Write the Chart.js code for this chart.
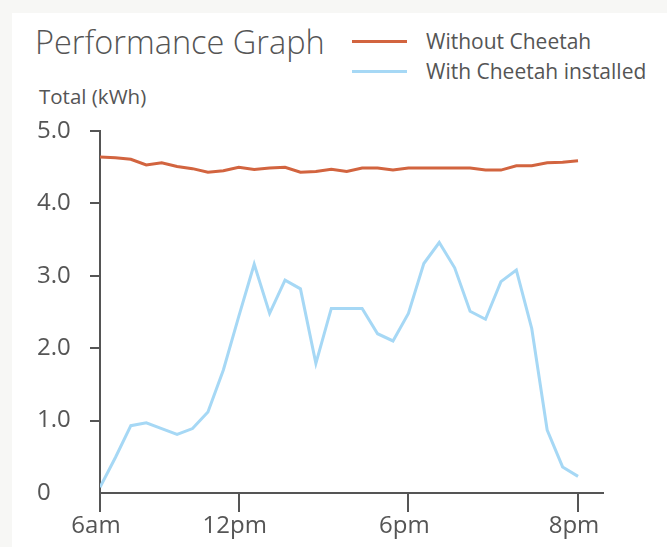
<!DOCTYPE html>
<html lang="en">
<head>
    <meta charset="UTF-8">
    <title>Performance Graph</title>
    <script src="https://cdn.jsdelivr.net/npm/chart.js"></script>
    <style>
        body { margin: 0; background: #f7f7f5; font-family: "Open Sans", sans-serif; color: #555; }
        .card { position: absolute; left: 12px; top: 13px; right: 0; bottom: 0; background: #fff; }
        .title { position: absolute; left: 35px; top: 26px; font-size: 32.5px; line-height: 32px; font-weight: 300; white-space: nowrap; }
        .legend { position: absolute; left: 352px; font-size: 21px; line-height: 20px; white-space: nowrap; }
        .legend span.swatch { position: absolute; left: 0; top: 9px; width: 55px; height: 3px; }
        .legend span.text { position: absolute; left: 74px; top: 0; }
        .ylabel { position: absolute; left: 39px; top: 86px; font-size: 20.5px; line-height: 20px; white-space: nowrap; }
        canvas { position: absolute; left: 0; top: 0; }
    </style>
</head>
<body>
    <div class="card"></div>
    <div class="title">Performance Graph</div>
    <div class="legend" style="top:31px"><span class="swatch" style="background:#d2643f"></span><span class="text">Without Cheetah</span></div>
    <div class="legend" style="top:61px"><span class="swatch" style="background:#a6d8f5"></span><span class="text">With Cheetah installed</span></div>
    <div class="ylabel">Total (kWh)</div>
    <canvas id="perfChart" width="667" height="547"></canvas>

    <script>
        // values, one per slot
        const withoutCheetah = [4.64, 4.63, 4.61, 4.53, 4.56, 4.51, 4.48, 4.43, 4.45, 4.50,
                                4.47, 4.49, 4.50, 4.43, 4.44, 4.47, 4.44, 4.49, 4.49, 4.46,
                                4.49, 4.49, 4.49, 4.49, 4.49, 4.46, 4.46, 4.52, 4.52, 4.56,
                                4.57, 4.59];
        const withCheetah = [0.08, 0.49, 0.93, 0.97, 0.89, 0.81, 0.89, 1.12, 1.70, 2.44,
                             3.16, 2.48, 2.94, 2.82, 1.79, 2.55, 2.55, 2.55, 2.20, 2.10,
                             2.48, 3.17, 3.46, 3.11, 2.51, 2.40, 2.92, 3.08, 2.27, 0.87,
                             0.36, 0.23];
        const xTickPos = [0, 9, 20, 31];
        const xTickLabels = ['6am', '12pm', '6pm', '8pm'];
        const yTicks = [0, 1, 2, 3, 4, 5];

        const axisColor = '#555';
        const tickFont = { family: 'Open Sans', size: 24 };

        const toPoints = arr => arr.map((v, i) => ({ x: i, y: v }));

        const ctx = document.getElementById('perfChart').getContext('2d');
        const chart = new Chart(ctx, {
            type: 'line',
            data: {
                datasets: [{
                    label: 'Without Cheetah',
                    data: toPoints(withoutCheetah),
                    borderColor: '#d2643f',
                    borderWidth: 3,
                    pointRadius: 0,
                    tension: 0
                }, {
                    label: 'With Cheetah installed',
                    data: toPoints(withCheetah),
                    borderColor: '#a6d8f5',
                    borderWidth: 3,
                    pointRadius: 0,
                    tension: 0
                }]
            },
            options: {
                responsive: false,
                animation: false,
                layout: { padding: { left: 37, top: 131, right: 64, bottom: 0 } },
                plugins: { legend: { display: false }, tooltip: { enabled: false } },
                scales: {
                    x: {
                        type: 'linear',
                        min: 0,
                        max: 32.62,
                        afterBuildTicks: s => { s.ticks = xTickPos.map(v => ({ value: v })); },
                        afterFit: s => { s.height = 54; },
                        ticks: {
                            color: axisColor,
                            font: tickFont,
                            padding: 0,
                            labelOffset: -4,
                            maxRotation: 0,
                            autoSkip: false,
                            callback: v => xTickLabels[xTickPos.indexOf(v)]
                        },
                        grid: { drawOnChartArea: false, drawTicks: true, tickLength: 19, color: axisColor, lineWidth: 2 },
                        border: { display: true, color: axisColor, width: 2 }
                    },
                    y: {
                        min: 0,
                        max: 5,
                        afterBuildTicks: s => { s.ticks = yTicks.map(v => ({ value: v })); },
                        afterFit: s => { s.width = 63; },
                        ticks: {
                            color: axisColor,
                            font: tickFont,
                            crossAlign: 'far',
                            callback: v => v === 0 ? '0' : v.toFixed(1)
                        },
                        grid: {
                            drawOnChartArea: false,
                            drawTicks: true,
                            tickLength: 10,
                            lineWidth: 2,
                            color: c => (c.tick && c.tick.value === 0) ? 'rgba(0,0,0,0)' : axisColor
                        },
                        border: { display: true, color: axisColor, width: 2 }
                    }
                }
            }
        });
    </script>
</body>
</html>
